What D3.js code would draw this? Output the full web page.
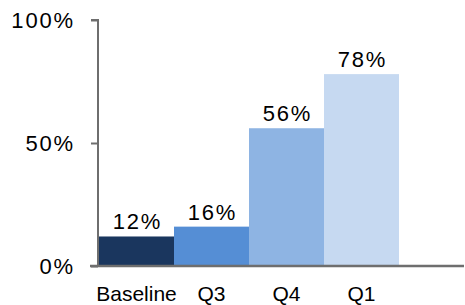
<!DOCTYPE html>
<html>
<head>
<meta charset="utf-8">
<script src="https://cdn.jsdelivr.net/npm/d3@7"></script>
<style>
  body { margin: 0; background: #fff; }
  svg text { font-family: 'Liberation Sans', Arial, sans-serif; fill: #000; }
</style>
</head>
<body>
<svg id="chart" width="465" height="305"></svg>
<script>
const categories = ['Baseline', 'Q3', 'Q4', 'Q1'];
const values = [12, 16, 56, 78];
const barColors = ['#1a365e', '#558ed5', '#8eb4e3', '#c6d9f1'];
const yTicks = [0, 50, 100];

const svg = d3.select('#chart');
const axisColor = '#6e6e6e';
const pctSpacing = 1.8;

const xScale = d3.scaleBand().domain(categories).range([99, 399]).padding(0);
const yScale = d3.scaleLinear().domain([0, 100]).range([266, 20]);

// bars
svg.append('g')
  .selectAll('rect')
  .data(values)
  .join('rect')
  .attr('x', (d, i) => xScale(categories[i]))
  .attr('y', (d) => yScale(d))
  .attr('width', xScale.bandwidth())
  .attr('height', (d) => yScale(0) - yScale(d))
  .attr('fill', (d, i) => barColors[i]);

// value labels
svg.append('g')
  .selectAll('text')
  .data(values)
  .join('text')
  .attr('x', (d, i) => xScale(categories[i]) + xScale.bandwidth() / 2 + pctSpacing / 2)
  .attr('y', (d) => yScale(d) - 7)
  .attr('text-anchor', 'middle')
  .attr('font-size', '22px')
  .attr('letter-spacing', pctSpacing)
  .text((d) => `${d}%`);

// y axis
const yAxisG = svg.append('g').attr('transform', 'translate(98,0)');
yAxisG.call(
  d3.axisLeft(yScale)
    .tickValues(yTicks)
    .tickSize(7)
    .tickPadding(18 - pctSpacing)
    .tickFormat((d) => `${d}%`),
);
yAxisG.selectAll('.tick text')
  .attr('font-size', '22px')
  .attr('font-family', 'Liberation Sans, Arial, sans-serif')
  .attr('letter-spacing', pctSpacing);
yAxisG.selectAll('line, .domain').attr('stroke', axisColor).attr('stroke-width', 2);
yAxisG.select('.domain').attr('d', `M-7,${yScale(100)}H0V${yScale(0)}`);

// x axis baseline
svg.append('line')
  .attr('x1', 90)
  .attr('x2', 464)
  .attr('y1', yScale(0))
  .attr('y2', yScale(0))
  .attr('stroke', axisColor)
  .attr('stroke-width', 2.5);

// category labels
svg.append('g')
  .selectAll('text')
  .data(categories)
  .join('text')
  .attr('x', (d) => xScale(d) + xScale.bandwidth() / 2)
  .attr('y', 301)
  .attr('text-anchor', 'middle')
  .attr('font-size', '21px')
  .text((d) => d);
</script>
</body>
</html>
